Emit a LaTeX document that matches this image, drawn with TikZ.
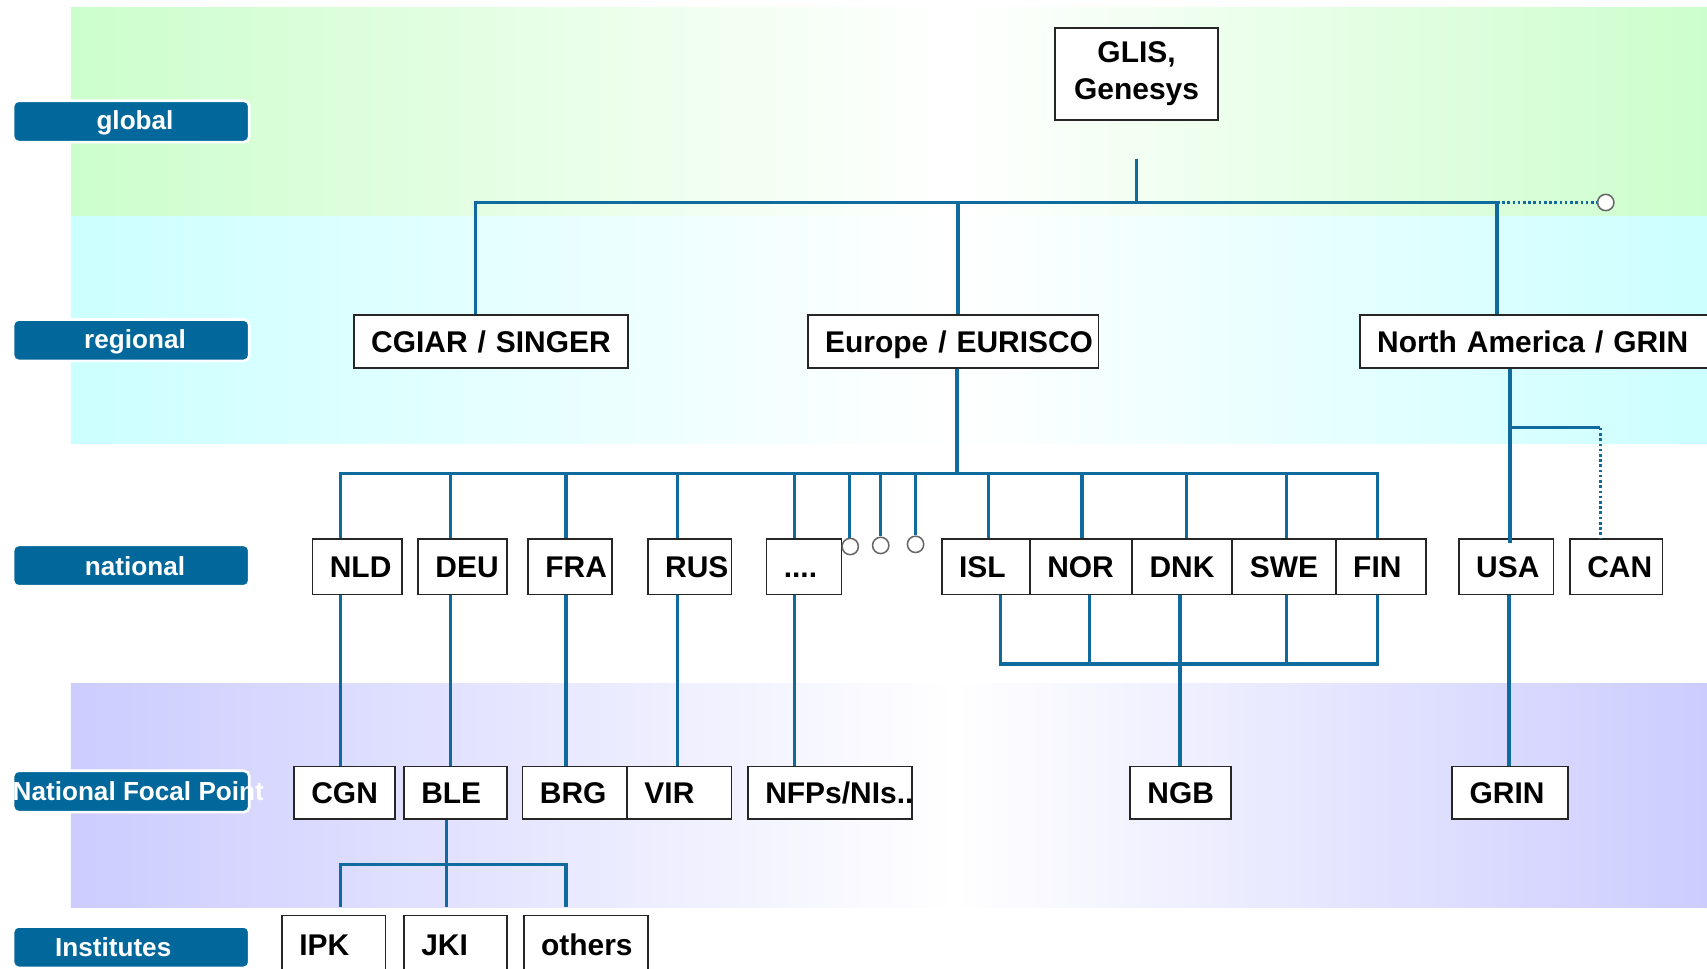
\documentclass[tikz,border=0pt]{standalone}
\usepackage{fontspec}
\setmainfont{Liberation Sans}
\definecolor{conncol}{HTML}{0F6A9E}
\definecolor{labcol}{HTML}{02679A}
\definecolor{bandgreen}{HTML}{CCFECC}
\definecolor{bandcyan}{HTML}{CCFFFF}
\definecolor{bandlav}{HTML}{CCCCFF}
\pgfdeclarehorizontalshading{greenband}{100bp}{color(0bp)=(bandgreen); color(25bp)=(bandgreen); color(52bp)=(white); color(75bp)=(bandgreen); color(100bp)=(bandgreen)}
\pgfdeclarehorizontalshading{cyanband}{100bp}{color(0bp)=(bandcyan); color(25bp)=(bandcyan); color(52bp)=(white); color(75bp)=(bandcyan); color(100bp)=(bandcyan)}
\pgfdeclarehorizontalshading{lavband}{100bp}{color(0bp)=(bandlav); color(25bp)=(bandlav); color(52bp)=(white); color(75bp)=(bandlav); color(100bp)=(bandlav)}
\tikzset{
  bxbase/.style={draw=black!85, line width=0.8pt, fill=white, inner xsep=8pt, inner ysep=0pt,
    font=\bfseries\fontsize{13.75}{16}\selectfont},
  bx/.style={bxbase, align=left, text height=9.9pt, text depth=0pt},
  lab/.style={draw=white, line width=1.2pt, fill=labcol, rounded corners=2.5pt,
    minimum width=108.5pt, minimum height=19pt, inner sep=0pt},
  labtxt/.style={text=white, font=\bfseries\fontsize{12}{14}\selectfont, inner sep=0pt},
  conn/.style={draw=conncol, line width=1.5pt},
  dotconn/.style={draw=conncol, line width=1.5pt, dash pattern=on 1.2pt off 1.2pt},
  endcirc/.style={circle, draw=black!60, fill=white, line width=0.7pt, minimum size=7.5pt, inner sep=0pt}
}
\begin{document}
\begin{tikzpicture}[x=0.5pt,y=-0.5pt]
\useasboundingbox (0,0) rectangle (1568,890);
% bands
\shade[shading=greenband] (65,7) rectangle (1568,199);
\shade[shading=cyanband] (65,199) rectangle (1568,407);
\shade[shading=lavband] (65,628) rectangle (1568,834);

% level labels
\node[lab, label={[labtxt, xshift=1.75pt, yshift=-0.5pt]center:global}] (lglobal) at (120.5,111.5) {};
\node[lab, label={[labtxt, xshift=1.75pt, yshift=-0.5pt]center:regional}] (lregional) at (120.5,312.5) {};
\node[lab, label={[labtxt, xshift=1.75pt, yshift=-0.5pt]center:national}] (lnational) at (120.5,519.5) {};
\node[lab, label={[labtxt, xshift=3.25pt]center:National Focal Point}] (lnfp) at (120.5,727) {};
\node[lab, label={[labtxt, xshift=-8.25pt]center:Institutes}] (linst) at (120.5,870) {};

% global
\node[bxbase, align=center, text width=59pt, minimum height=42pt,
  font=\bfseries\fontsize{13.75}{17}\selectfont] (glis) at (1044,68) {GLIS,\\Genesys};
% regional
\node[bx, minimum height=24.5pt, text width=110pt] (cgiar) at (451,313.5) {\mbox{CGIAR / SINGER}};
\node[bx, minimum height=24.5pt, text width=117.5pt] (eur) at (875.5,313.5) {\mbox{Europe / EURISCO}};
\node[bx, minimum height=24.5pt, text width=145.5pt] (na) at (1410.5,313.5) {\mbox{North America / GRIN}};
% national
\foreach \n/\t/\cx/\w in {nld/NLD/328/25, deu/DEU/425/25, fra/FRA/523.5/22.5, rus/RUS/633.5/22.5,
   isl/ISL/905.5/24.5, nor/NOR/993/31, dnk/DNK/1086/30, swe/SWE/1179.5/31.5,
   fin/FIN/1268.5/25.5, usa/USA/1383.5/27.5, can/CAN/1484.5/26.5}
  \node[bx, minimum height=25.5pt, text width=\w pt] (\n) at (\cx,520.5) {\mbox{\t}};
\node[bx, minimum height=25.5pt, text width=18.5pt] (dots) at (738.5,520.5) {\mbox{....}};
% national focal points
\foreach \n/\t/\cx/\w in {cgn/CGN/316.5/30.5, ble/BLE/418.5/31.5, brg/BRG/528/32, vir/VIR/624/32,
   ngb/NGB/1084.5/30.5, grin/GRIN/1387/37}
  \node[bx, minimum height=24pt, text width=\w pt] (\n) at (\cx,728) {\mbox{\t}};
\node[bx, minimum height=24pt, text width=59.5pt] (nfps) at (762.5,728) {\mbox{NFPs/NIs..}};
% institutes
\foreach \n/\t/\cx/\w in {ipk/IPK/306.5/31.5, jki/JKI/418.5/31.5, others/others/538/41}
  \node[bx, minimum height=27pt, text width=\w pt] (\n) at (\cx,868) {\mbox{\t}};

% circles
\node[endcirc] (gc) at (1475,186) {};
\node[endcirc] (c1) at (781,502) {};
\node[endcirc] (c2) at (809,501) {};
\node[endcirc] (c3) at (841,500) {};

% global bus
\coordinate (gb) at (1044,186);
\coordinate (nab) at (1375,186);
\draw[conn] ([yshift=-17.5pt]glis.south) -- (gb);
\draw[conn] (gb) -| (cgiar.north -| 437,0);
\draw[conn] (gb) -- (nab) -- (na.north -| nab);
\draw[conn] (eur.north -| 880,0) |- (gb);
\draw[dotconn] (nab) -- (gc.west);

% europe bus
\coordinate (nb) at (879,435);
\draw[conn] (eur.south -| nb) -- (nb);
\draw[conn] (nb) -| (nld.north -| 313,0);
\draw[conn] (nb) -| (deu.north -| 414,0);
\draw[conn] (nb) -| (fra.north -| 520,0);
\draw[conn] (nb) -| (rus.north -| 622,0);
\draw[conn] (nb) -| (dots.north -| 730,0);
\draw[conn] (nb) -| ([xshift=-0.5pt]c1.north);
\draw[conn] (nb) -| (c2.north);
\draw[conn] (nb) -| (c3.north);
\draw[conn] (nb) -| (isl.north -| 908,0);
\draw[conn] (nb) -| (nor.north -| 994,0);
\draw[conn] (nb) -| (dnk.north -| 1090,0);
\draw[conn] (nb) -| (swe.north -| 1182,0);
\draw[conn] (nb) -| (fin.north -| 1265,0);

% north america
\coordinate (nj) at (1387,393);
\draw[conn] (na.south -| nj) -- ([yshift=-2.5pt]usa.north -| nj);
\draw[conn] (nj) -- ++(83,0) coordinate (nk);
\draw[dotconn] (nk) -- (can.north -| nk);

% national -> focal points
\draw[conn] (nld.south -| 313,0) -- (cgn.north -| 313,0);
\draw[conn] (deu.south -| 414,0) -- (ble.north -| 414,0);
\draw[conn] (fra.south -| 520,0) -- (brg.north -| 520,0);
\draw[conn] (rus.south -| 622,0) -- (vir.north -| 622,0);
\draw[conn] (dots.south -| 730,0) -- (nfps.north -| 730,0);
\draw[conn] (usa.south -| 1386,0) -- (grin.north -| 1386,0);

% nordic
\coordinate (nordic) at (1084,610);
\draw[conn] (isl.south -| 919,0) |- (nordic);
\draw[conn] (nor.south -| 1001,0) |- (nordic);
\draw[conn] (swe.south -| 1182,0) |- (nordic);
\draw[conn] (fin.south -| 1265,0) |- (nordic);
\draw[conn] (dnk.south -| nordic) -- (ngb.north -| nordic);

% BLE -> institutes
\coordinate (ib) at (410,794);
\draw[conn] (ble.south -| ib) -- (ib);
\draw[conn, shorten >=3.5pt] (ib) -| (ipk.north -| 313,0);
\draw[conn, shorten >=3.5pt] (ib) -- (jki.north -| ib);
\draw[conn, shorten >=3.5pt] (ib) -| (others.north -| 520,0);
\end{tikzpicture}
\end{document}
